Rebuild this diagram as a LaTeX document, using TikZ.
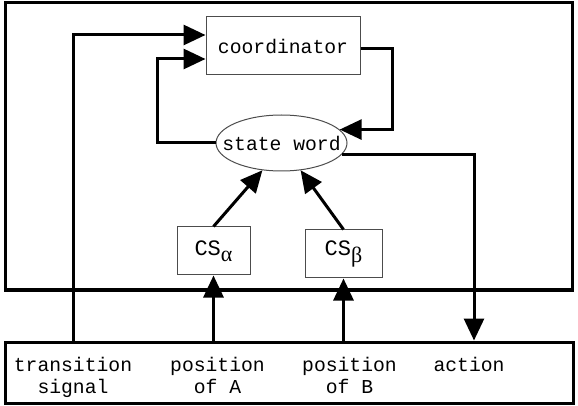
\documentclass[tikz,border=0pt]{standalone}
\usepackage{fontspec}
\setmonofont{Liberation Mono}
\newfontfamily\greekfont{Liberation Serif}
\usetikzlibrary{arrows.meta,positioning,shapes.geometric}
\newcommand{\lbfont}{\ttfamily\fontsize{9.85}{11}\selectfont}
\newcommand{\gsub}[1]{\raisebox{-0.55ex}{\greekfont\fontsize{11}{13}\selectfont #1}}
\tikzset{
  frame/.style = {draw, line width=1.5pt, inner sep=0pt},
  box/.style   = {draw=black!70, line width=0.5pt, fill=white, inner sep=0pt, font=\lbfont},
  oval/.style  = {ellipse, draw=black!70, line width=0.5pt, fill=white, inner xsep=-6.5pt, inner ysep=0pt, font=\lbfont},
  conn/.style  = {-{Triangle[length=11pt,width=10pt]}, line width=1.5pt},
  lbl/.style   = {font=\lbfont, align=center, inner sep=0pt, anchor=north},
}

\begin{document}
\begin{tikzpicture}[x=0.5pt,y=-0.5pt]
  \useasboundingbox (0,0) rectangle (578,406);
  % the two frames
  \node[frame, minimum width=283.5pt, minimum height=143.5pt] (ctrl) at (288.5,146.5) {};
  \node[frame, minimum width=284pt, minimum height=30.5pt] (env) at (289,372.5) {};
  % blocks
  \node[box, minimum width=77pt, minimum height=29pt] (coord) at (283,46) {coordinator};
  \node[oval, minimum width=65.5pt, minimum height=28pt] (sw) at (281.5,143) {state word};
  \node[box, minimum width=36.5pt, minimum height=24pt, font=\ttfamily\fontsize{11}{13}\selectfont] (csa) at (213.5,251) {CS\gsub{α}};
  \node[box, minimum width=38.5pt, minimum height=24pt, font=\ttfamily\fontsize{11}{13}\selectfont] (csb) at (343.5,254) {CS\gsub{β}};
  % signals of the environment
  \node[lbl] (ts)   at (73,357)  {transition\\signal};
  \node[lbl] (posA) at (217.5,357) {position\\of A};
  \node[lbl] (posB) at (349.5,357) {position\\of B};
  \node[lbl] (act)  at (469,357) {action};
  % connectors
  \draw[conn] (ts |- env.north) |- ([yshift=5.5pt]coord.west);
  \draw[conn] (sw.west) -- ++(-58,0) |- ([yshift=-6.5pt]coord.west);
  \draw[conn] ([yshift=-1.5pt]coord.east) -- ++(32,0) |- (sw.13);
  \draw[conn] (sw.-11) -| ([xshift=2.5pt]act.north |- env.north);
  \draw[conn] (csa.north) -- (sw.235);
  \draw[conn] (csb.north) -- (sw.-55);
  \draw[conn] (csa.south |- env.north) -- (csa.south);
  \draw[conn] (csb.south |- env.north) -- (csb.south);
\end{tikzpicture}
\end{document}
